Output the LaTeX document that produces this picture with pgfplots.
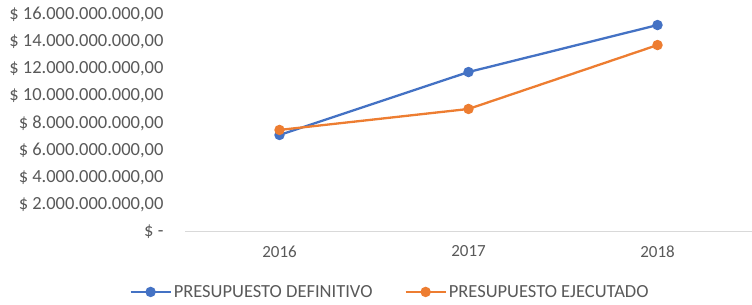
\documentclass[border=0pt]{standalone}
\usepackage{pgfplots}
\pgfplotsset{compat=1.18}
\usepackage{fontspec}
\setmainfont{Carlito}
\definecolor{txt}{HTML}{595959}
\definecolor{bl}{HTML}{4472C4}
\definecolor{orn}{HTML}{ED7D31}
\definecolor{axl}{HTML}{D9D9D9}
\begin{document}
\begin{tikzpicture}
\begin{axis}[
  at={(185pt,73pt)}, anchor=south west,
  scale only axis, width=567pt, height=218pt,
  xmin=-0.5, xmax=2.5, ymin=0, ymax=16e9,
  scaled y ticks=false,
  axis x line*=bottom, axis y line*=left,
  x axis line style={axl, line width=1pt, -},
  y axis line style={draw=none},
  xtick={0,1,2}, xticklabels={2016,2017,2018},
  ytick={0,2e9,4e9,6e9,8e9,10e9,12e9,14e9,16e9},
  yticklabels={{\$ -\hspace{14pt}},{\$ 2.000.000.000,00},{\$ 4.000.000.000,00},{\$ 6.000.000.000,00},{\$ 8.000.000.000,00},{\$ 10.000.000.000,00},{\$ 12.000.000.000,00},{\$ 14.000.000.000,00},{\$ 16.000.000.000,00}},
  major tick length=0pt,
  xticklabel style={font=\fontsize{17}{17}\selectfont, text=txt, yshift=-10pt},
  yticklabel style={font=\fontsize{18.5}{18.5}\selectfont, text=txt, anchor=east, xshift=-18pt},
  ytick style={draw=none},
  xtick style={draw=none},
  clip=false,
  legend columns=2,
  legend style={draw=none, fill=none, at={(0.3616,-0.275)}, anchor=center,
    font=\fontsize{18.5}{18.5}\selectfont, text=txt,
    /tikz/every even column/.append style={column sep=30pt}},
  legend image code/.code={\draw[mark repeat=2,mark phase=2,#1] plot coordinates {(0pt,0pt)(20pt,0pt)(40pt,0pt)};},
]
\addplot[bl, line width=2.3pt, mark=*, mark size=4pt] coordinates {(0,7.12e9)(1,11.74e9)(2,15.19e9)};
\addlegendentry{PRESUPUESTO DEFINITIVO}
\addplot[orn, line width=2.3pt, mark=*, mark size=4pt] coordinates {(0,7.49e9)(1,9.03e9)(2,13.72e9)};
\addlegendentry{PRESUPUESTO EJECUTADO}
\end{axis}
\pgfresetboundingbox
\path (0,0) rectangle (752pt,305pt);
\end{tikzpicture}
\end{document}
